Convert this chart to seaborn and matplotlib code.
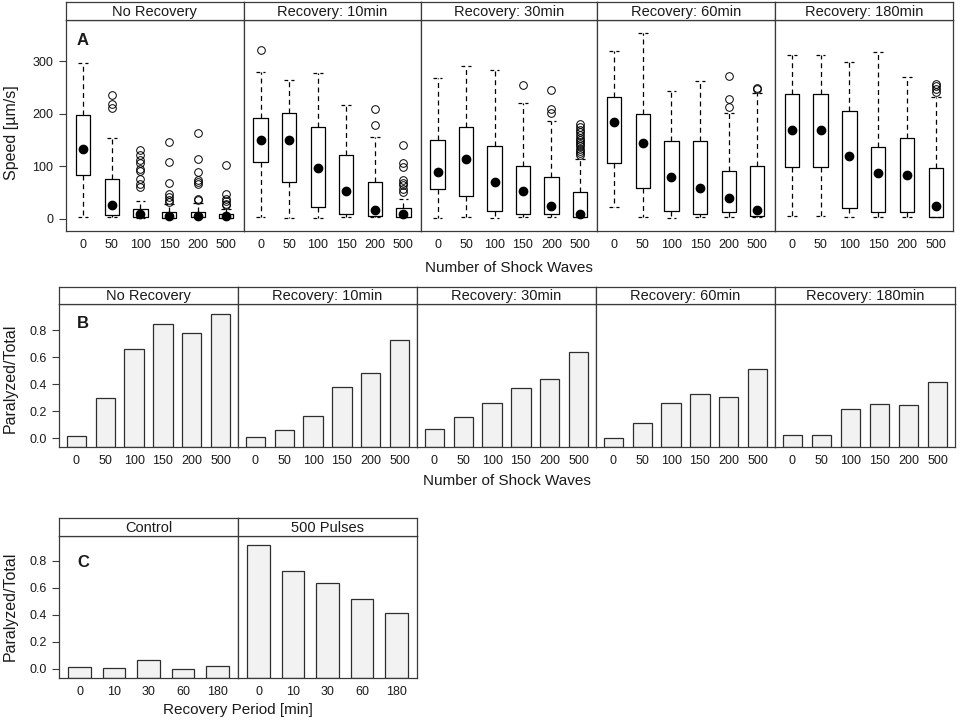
import numpy as np
import pandas as pd
import seaborn as sns
import matplotlib
matplotlib.use('Agg')
import matplotlib.pyplot as plt

# ---- data ----
shock_waves = ["0", "50", "100", "150", "200", "500"]
recovery_labels = ["No Recovery", "Recovery: 10min", "Recovery: 30min",
                   "Recovery: 60min", "Recovery: 180min"]

# speed boxplot statistics [µm/s], one row per recovery panel
speed_whislo = [[3, 3, 2, 2, 3, 2],
                [4, 2, 2, 3, 3, 3],
                [2, 3, 2, 3, 3, 3],
                [22, 3, 2, 3, 3, 3],
                [6, 6, 3, 3, 3, 3]]
speed_q1 = [[83, 7, 3, 2, 3, 2],
            [108, 71, 23, 9, 5, 3],
            [57, 43, 15, 10, 10, 3],
            [107, 58, 15, 10, 13, 6],
            [99, 99, 21, 13, 13, 3]]
speed_med = [[133, 27, 9, 5, 5, 5],
             [150, 150, 97, 53, 17, 9],
             [90, 115, 71, 53, 25, 10],
             [184, 144, 80, 59, 40, 17],
             [169, 169, 120, 87, 84, 25]]
speed_q3 = [[198, 77, 18, 14, 14, 10],
            [193, 201, 175, 121, 71, 20],
            [151, 175, 139, 100, 79, 51],
            [233, 200, 149, 149, 91, 101],
            [238, 238, 205, 137, 155, 97]]
speed_whishi = [[297, 154, 34, 28, 30, 19],
                [280, 264, 278, 217, 156, 38],
                [269, 292, 283, 221, 187, 115],
                [320, 355, 244, 263, 202, 240],
                [313, 313, 299, 318, 271, 233]]
speed_fliers = [
    [[], [237, 219, 212], [131, 122, 113, 106, 96, 92, 76, 66, 61],
     [146, 108, 68, 48, 42, 36, 32], [163, 115, 90, 75, 70, 66, 38, 36],
     [103, 48, 38, 34, 29, 26]],
    [[322], [], [], [], [209, 179], [140, 107, 99, 74, 69, 64, 57, 52]],
    [[], [], [], [255], [246, 209, 202],
     [180, 175, 170, 165, 160, 155, 150, 146, 142, 138, 134, 130, 125, 121]],
    [[], [], [], [], [272, 228, 213], [250, 248]],
    [[], [], [], [], [], [258, 253, 248, 242]],
]

# fraction paralyzed, one row per recovery panel
paralyzed = [[0.015, 0.30, 0.665, 0.847, 0.778, 0.921],
             [0.010, 0.062, 0.168, 0.382, 0.486, 0.728],
             [0.067, 0.156, 0.259, 0.375, 0.440, 0.640],
             [0.000, 0.115, 0.264, 0.331, 0.309, 0.515],
             [0.022, 0.022, 0.215, 0.257, 0.247, 0.417]]

recovery_period = ["0", "10", "30", "60", "180"]
c_labels = ["Control", "500 Pulses"]
control_paralyzed = [0.015, 0.010, 0.067, 0.000, 0.022]
pulses_paralyzed = [0.921, 0.728, 0.640, 0.515, 0.417]

# ---- style ----
sns.set_style("white")
plt.rcParams['font.family'] = ['Liberation Sans', 'DejaVu Sans']

W, H = 964, 722
fig = plt.figure(figsize=(W / 100, H / 100), dpi=100)
frame_col = "#3a3a3a"
text_col = "#1a1a1a"
bar_fill = "#f2f2f2"
bar_edge = "#2e2e2e"
tick_fs = 9


def px_axes(left, top, right, bottom):
    return fig.add_axes([left / W, 1 - bottom / H, (right - left) / W, (bottom - top) / H])


def style_frame(ax):
    for s in ax.spines.values():
        s.set_color(frame_col)
        s.set_linewidth(0.9)
        s.set_visible(True)


def add_strip(left, right, top, bottom, label):
    sax = px_axes(left, top, right, bottom)
    sax.set_xticks([])
    sax.set_yticks([])
    sax.set_facecolor("white")
    style_frame(sax)
    sax.text(0.5, 0.45, label, ha="center", va="center", fontsize=10.5,
             color=text_col, transform=sax.transAxes)


def style_panel(ax, first, yticks, ylabels):
    style_frame(ax)
    ax.tick_params(axis="x", length=0, pad=6, labelsize=tick_fs, colors=text_col)
    if first:
        ax.set_yticks(yticks)
        ax.set_yticklabels(ylabels)
        ax.tick_params(axis="y", left=True, length=5, width=0.8, color=frame_col,
                       pad=4, labelsize=tick_fs, labelcolor=text_col)
    else:
        ax.set_yticks(yticks)
        ax.tick_params(axis="y", left=False, labelleft=False)
    ax.set_xlabel("")
    ax.set_ylabel("")


# ---- panel A: speed boxplots ----
a_edges = [66, 243.5, 420.5, 597, 774.5, 953]
a_top, a_bot, a_strip = 20, 231, 2
a_ylim = (-23, 379)
dash = (0, (4, 3))
for i, lab in enumerate(recovery_labels):
    ax = px_axes(a_edges[i], a_top, a_edges[i + 1], a_bot)
    stats = []
    for j in range(len(shock_waves)):
        stats.append(dict(med=speed_med[i][j], mean=speed_med[i][j],
                          q1=speed_q1[i][j], q3=speed_q3[i][j],
                          whislo=speed_whislo[i][j], whishi=speed_whishi[i][j],
                          fliers=speed_fliers[i][j]))
    ax.bxp(stats, positions=range(len(shock_waves)), widths=0.5, capwidths=0.34,
           showmeans=True, meanline=False,
           boxprops=dict(color="black", linewidth=0.9),
           whiskerprops=dict(color="black", linewidth=0.9, linestyle=dash),
           capprops=dict(color="black", linewidth=0.9, linestyle=(0, (3, 2.5))),
           medianprops=dict(linewidth=0),
           meanprops=dict(marker="o", markerfacecolor="black", markeredgecolor="black",
                          markersize=6),
           flierprops=dict(marker="o", markerfacecolor="none", markeredgecolor="black",
                           markersize=5.5, markeredgewidth=0.7))
    ax.set_xticks(range(len(shock_waves)))
    ax.set_xticklabels(shock_waves)
    ax.set_xlim(-0.6, 5.6)
    ax.set_ylim(*a_ylim)
    style_panel(ax, i == 0, [0, 100, 200, 300], ["0", "100", "200", "300"])
    if i == 0:
        ax.text(0.06, 0.905, "A", transform=ax.transAxes, fontsize=12,
                fontweight="bold", ha="left", va="center", color=text_col)
    add_strip(a_edges[i], a_edges[i + 1], a_strip, a_top, lab)

fig.text(509 / W, 1 - 268 / H, "Number of Shock Waves", ha="center", va="center",
         fontsize=11, color=text_col)
fig.text(12 / W, 1 - 133 / H, "Speed [µm/s]", ha="center", va="center",
         rotation=90, fontsize=11.5, color=text_col)

# ---- panel B: paralyzed fraction per shock wave count ----
b_edges = [59, 238, 417, 596, 775, 955]
b_top, b_bot, b_strip = 304, 447, 287
b_ylim = (-0.064, 0.995)
frac_ticks = [0.0, 0.2, 0.4, 0.6, 0.8]
frac_labels = ["0.0", "0.2", "0.4", "0.6", "0.8"]
for i, lab in enumerate(recovery_labels):
    ax = px_axes(b_edges[i], b_top, b_edges[i + 1], b_bot)
    heights = [v - b_ylim[0] for v in paralyzed[i]]
    sns.barplot(x=shock_waves, y=heights, bottom=b_ylim[0], color=bar_fill,
                edgecolor=bar_edge, linewidth=0.9, width=0.67, saturation=1,
                errorbar=None, ax=ax)
    ax.set_xlim(-0.6, 5.6)
    ax.set_ylim(*b_ylim)
    style_panel(ax, i == 0, frac_ticks, frac_labels)
    if i == 0:
        ax.text(0.1, 0.865, "B", transform=ax.transAxes, fontsize=12,
                fontweight="bold", ha="left", va="center", color=text_col)
    add_strip(b_edges[i], b_edges[i + 1], b_strip, b_top, lab)

fig.text(507 / W, 1 - 481 / H, "Number of Shock Waves", ha="center", va="center",
         fontsize=11, color=text_col)
fig.text(10 / W, 1 - 378 / H, "Paralyzed/Total", ha="center", va="center",
         rotation=90, fontsize=11.5, color=text_col)

# ---- panel C: recovery period ----
c_edges = [59, 238, 417]
c_top, c_bot, c_strip = 536, 678, 518
c_ylim = (-0.067, 0.985)
c_values = [control_paralyzed, pulses_paralyzed]
for i, lab in enumerate(c_labels):
    ax = px_axes(c_edges[i], c_top, c_edges[i + 1], c_bot)
    heights = [v - c_ylim[0] for v in c_values[i]]
    sns.barplot(x=recovery_period, y=heights, bottom=c_ylim[0], color=bar_fill,
                edgecolor=bar_edge, linewidth=0.9, width=0.66, saturation=1,
                errorbar=None, ax=ax)
    ax.set_xlim(-0.6, 4.6)
    ax.set_ylim(*c_ylim)
    style_panel(ax, i == 0, frac_ticks, frac_labels)
    if i == 0:
        ax.text(0.1, 0.81, "C", transform=ax.transAxes, fontsize=12,
                fontweight="bold", ha="left", va="center", color=text_col)
    add_strip(c_edges[i], c_edges[i + 1], c_strip, c_top, lab)

fig.text(238 / W, 1 - 710 / H, "Recovery Period [min]", ha="center", va="center",
         fontsize=11, color=text_col)
fig.text(10 / W, 1 - 606 / H, "Paralyzed/Total", ha="center", va="center",
         rotation=90, fontsize=11.5, color=text_col)

fig.savefig("out.png", dpi=100, facecolor="white")
